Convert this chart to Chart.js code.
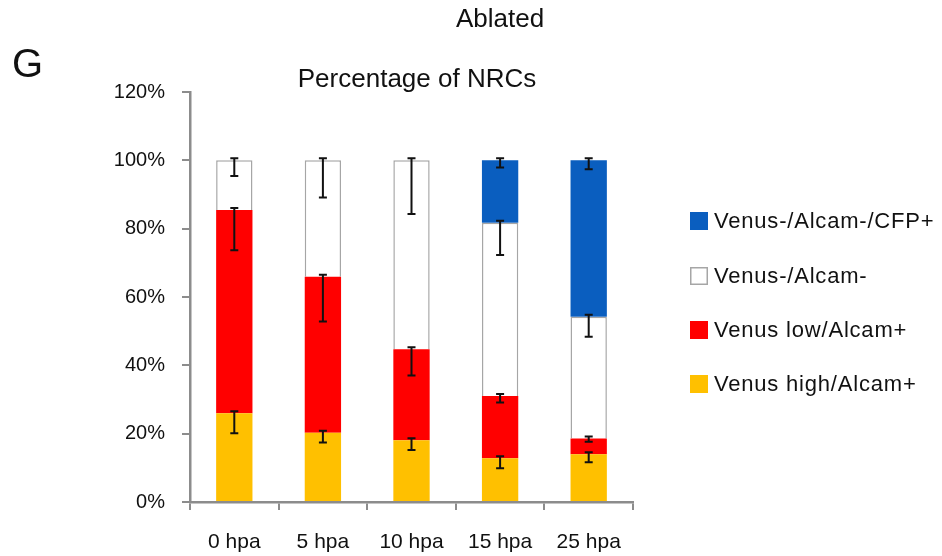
<!DOCTYPE html>
<html>
<head>
<meta charset="utf-8">
<script src="https://cdn.jsdelivr.net/npm/chart.js@4.4.1/dist/chart.umd.min.js"></script>
<style>
  html, body { margin: 0; padding: 0; background: #fff; }
  #wrap { width: 942px; height: 556px; position: relative; }
</style>
</head>
<body>
<div id="wrap"><canvas id="chart" width="942" height="556"></canvas></div>
<script>
const categories = ['0 hpa', '5 hpa', '10 hpa', '15 hpa', '25 hpa']

// percentage of NRCs per population (stacked, bottom to top)
const venusHigh = [26.0, 20.3, 18.1, 12.8, 14.0]
const venusLow = [59.5, 45.6, 26.6, 18.2, 4.6]
const venusNeg = [14.5, 34.1, 55.3, 50.7, 35.6]
const venusCfp = [0, 0, 0, 18.3, 45.8]

// error bars (drawn below the top of each segment)
const venusHighErr = [5.9, 2.9, 2.9, 2.9, 2.4]
const venusLowErr = [11.8, 13.1, 7.7, 1.9, 1.0]
const venusNegErr = [4.6, 10.9, 15.7, 9.4, 5.8]
const venusCfpErr = [null, null, null, 2.1, 2.6]

const yTicks = [0, 20, 40, 60, 80, 100, 120]

const FONT = "'Liberation Sans', Arial, sans-serif"
const AXIS = '#8c8c8c'

const errorBars = {
    id: 'errorBars',
    afterDatasetsDraw(chart) {
        const ctx = chart.ctx
        const y = chart.scales.y
        ctx.save()
        ctx.strokeStyle = '#111'
        ctx.lineWidth = 2
        chart.data.datasets.forEach((ds, i) => {
            const meta = chart.getDatasetMeta(i)
            meta.data.forEach((bar, j) => {
                const err = ds.errors[j]
                if (err == null) return
                let top = 0
                for (let k = 0; k <= i; k++) top += chart.data.datasets[k].data[j]
                const yTop = y.getPixelForValue(top) - 2
                const yBot = y.getPixelForValue(top - err)
                const cap = 4
                ctx.beginPath()
                ctx.moveTo(bar.x, yTop); ctx.lineTo(bar.x, yBot)
                ctx.moveTo(bar.x - cap, yTop); ctx.lineTo(bar.x + cap, yTop)
                ctx.moveTo(bar.x - cap, yBot); ctx.lineTo(bar.x + cap, yBot)
                ctx.stroke()
            })
        })
        ctx.restore()
    }
}

const labelsAndLegend = {
    id: 'labelsAndLegend',
    afterDraw(chart) {
        const ctx = chart.ctx
        ctx.save()
        ctx.fillStyle = '#111'
        ctx.textBaseline = 'alphabetic'

        ctx.font = '26px ' + FONT
        ctx.textAlign = 'center'
        ctx.fillText('Ablated', 500, 27)
        ctx.fillText('Percentage of NRCs', 417, 87)

        ctx.font = '40px ' + FONT
        ctx.textAlign = 'left'
        ctx.fillText('G', 12, 77)

        // legend, top series first
        const rows = [221, 276, 330, 384]
        const order = chart.data.datasets.slice().reverse()
        ctx.font = '22px ' + FONT
        ctx.letterSpacing = '0.8px'
        ctx.textBaseline = 'middle'
        order.forEach((ds, n) => {
            const cy = rows[n]
            ctx.fillStyle = ds.backgroundColor
            ctx.fillRect(690, cy - 9, 18, 18)
            if (ds.borderWidth) {
                ctx.strokeStyle = ds.borderColor
                ctx.lineWidth = 1.5
                ctx.strokeRect(690.75, cy - 8.25, 16.5, 16.5)
            }
            ctx.fillStyle = '#111'
            ctx.fillText(ds.label, 714, cy + 1)
        })
        ctx.restore()
    }
}

const ctx = document.getElementById('chart')

new Chart(ctx, {
    type: 'bar',
    data: {
        labels: categories,
        datasets: [
            { label: 'Venus high/Alcam+', data: venusHigh, errors: venusHighErr, backgroundColor: '#ffc000', borderWidth: 0 },
            { label: 'Venus low/Alcam+', data: venusLow, errors: venusLowErr, backgroundColor: '#ff0000', borderWidth: 0 },
            { label: 'Venus-/Alcam-', data: venusNeg, errors: venusNegErr, backgroundColor: '#ffffff', borderColor: '#a6a6a6', borderWidth: 1.5, borderSkipped: 'bottom' },
            { label: 'Venus-/Alcam-/CFP+', data: venusCfp, errors: venusCfpErr, backgroundColor: '#0a5ebf', borderWidth: 0 }
        ]
    },
    options: {
        responsive: false,
        animation: false,
        events: [],
        layout: { padding: { left: 0, right: 309, top: 92, bottom: 0 } },
        datasets: { bar: { barPercentage: 0.41, categoryPercentage: 1 } },
        plugins: { legend: { display: false }, tooltip: { enabled: false } },
        scales: {
            x: {
                stacked: true,
                afterFit: (s) => { s.height = 54 },
                border: { color: AXIS, width: 2.5 },
                grid: { drawOnChartArea: false, color: AXIS, lineWidth: 2, tickLength: 8, offset: true },
                ticks: { color: '#111', font: { family: FONT, size: 21 }, padding: 20 }
            },
            y: {
                stacked: true,
                min: 0,
                max: 120,
                afterFit: (s) => { s.width = 190 },
                afterBuildTicks: (s) => { s.ticks = yTicks.map(v => ({ value: v })) },
                border: { color: AXIS, width: 2.5 },
                grid: { drawOnChartArea: false, color: AXIS, lineWidth: 2, tickLength: 8 },
                ticks: { color: '#111', font: { family: FONT, size: 20 }, padding: 17, callback: (v) => v + '%' }
            }
        }
    },
    plugins: [errorBars, labelsAndLegend]
})
</script>
</body>
</html>
